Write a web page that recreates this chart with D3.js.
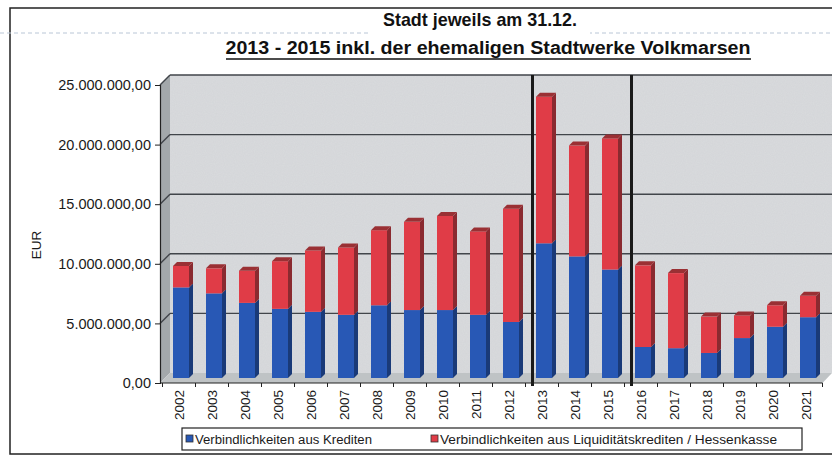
<!DOCTYPE html>
<html>
<head>
<meta charset="utf-8">
<script src="https://cdn.jsdelivr.net/npm/d3@7"></script>
<style>
  body { margin: 0; background: #fff; }
  text { font-family: "Liberation Sans", Arial, sans-serif; }
</style>
</head>
<body>
<div id="chart"></div>
<script>
// data (EUR)
var years = ["2002","2003","2004","2005","2006","2007","2008","2009","2010","2011",
             "2012","2013","2014","2015","2016","2017","2018","2019","2020","2021"];
var kredite = [7600000,7100000,6300000,5800000,5550000,5300000,6100000,5700000,5700000,5300000,
               4700000,11300000,10200000,9100000,2600000,2500000,2100000,3350000,4300000,5100000];
var liquiditaet = [1800000,2100000,2700000,4000000,5150000,5650000,6300000,7400000,7900000,7000000,
                   9500000,12300000,9300000,11000000,6850000,6300000,3050000,1900000,1800000,1800000];
var yTicks = [0,5000000,10000000,15000000,20000000,25000000];
var seriesNames = ["Verbindlichkeiten aus Krediten",
                   "Verbindlichkeiten aus Liquiditätskrediten / Hessenkasse"];
var separators = ["2013","2016"];

var W = 832, H = 456;
var depth = 10;          // 3d depth of the walls
var barW = 16, barD = 4; // bar front width and bar side depth

var colors = {
    front: ["#2858b5", "#e03c47"],
    side:  ["#1a3a78", "#8a2a30"],
    top:   "#9a3034"
};

var svg = d3.select("#chart").append("svg")
    .attr("width", W)
    .attr("height", H);

// noise for the scanned look of the wall
var defs = svg.append("defs");
var flt = defs.append("filter").attr("id", "grain").attr("x", 0).attr("y", 0).attr("width", 1).attr("height", 1);
flt.append("feTurbulence").attr("type", "fractalNoise").attr("baseFrequency", 0.9).attr("numOctaves", 1).attr("result", "n");
flt.append("feColorMatrix").attr("in", "n").attr("type", "matrix")
    .attr("values", "0 0 0 0 0.55  0 0 0 0 0.57  0 0 0 0 0.6  0 0 0 0.35 0").attr("result", "g");
flt.append("feComposite").attr("in", "g").attr("in2", "SourceGraphic").attr("operator", "in").attr("result", "gi");
flt.append("feMerge").selectAll("feMergeNode").data(["SourceGraphic", "gi"]).enter()
    .append("feMergeNode").attr("in", function(d){ return d; });

var x = d3.scaleBand()
    .domain(years)
    .range([162.5, 822.5]);

var y = d3.scaleLinear()
    .domain([0, 25000000])
    .range([383, 85]);

var fmt = function(v){
    var s = d3.format(",.2f")(v);
    return s.replace(/,/g, "#").replace(".", ",").replace(/#/g, ".");
};

// outer frame
svg.append("rect")
    .attr("x", 10).attr("y", 8)
    .attr("width", 830).attr("height", 446)
    .attr("fill", "none")
    .attr("stroke", "#222")
    .attr("stroke-width", 1.5);

// faint scan line
svg.append("line")
    .attr("x1", 0).attr("x2", W)
    .attr("y1", 33).attr("y2", 33)
    .attr("stroke", "#b9c6d6")
    .attr("stroke-width", 1)
    .attr("stroke-dasharray", "4,3");

// title
svg.append("rect")
    .attr("x", 370).attr("y", 10).attr("width", 220).attr("height", 24)
    .attr("fill", "#fff");
svg.append("text")
    .attr("x", 480).attr("y", 26)
    .attr("text-anchor", "middle")
    .attr("font-size", 19).attr("font-weight", "bold")
    .attr("textLength", 194).attr("lengthAdjust", "spacingAndGlyphs")
    .attr("fill", "#111")
    .text("Stadt jeweils am 31.12.");
svg.append("text")
    .attr("x", 488).attr("y", 54)
    .attr("text-anchor", "middle")
    .attr("font-size", 18).attr("font-weight", "bold")
    .attr("textLength", 525).attr("lengthAdjust", "spacingAndGlyphs")
    .attr("fill", "#111")
    .text("2013 - 2015 inkl. der ehemaligen Stadtwerke Volkmarsen");
svg.append("line")
    .attr("x1", 226).attr("x2", 751)
    .attr("y1", 59).attr("y2", 59)
    .attr("stroke", "#111").attr("stroke-width", 1.5);

// 3d walls
var x0 = x.range()[0] - 2.5, x1 = x.range()[1];
var yTop = y(25000000), yBase = y(0);

svg.append("polygon") // back wall
    .attr("points", [[x0+depth, yTop-depth],[W, yTop-depth],[W, yBase-depth],[x0+depth, yBase-depth]].join(" "))
    .attr("fill", "#dadcde")
    .attr("filter", "url(#grain)");
svg.append("polygon") // left wall
    .attr("points", [[x0, yTop],[x0+depth, yTop-depth],[x0+depth, yBase-depth],[x0, yBase]].join(" "))
    .attr("fill", "#a3a8ab");
svg.append("polygon") // floor
    .attr("points", [[x0, yBase],[x0+depth, yBase-depth],[W, yBase-depth],[x1, yBase]].join(" "))
    .attr("fill", "#bfc3c5");

// gridlines
var grid = svg.append("g").attr("class", "grid");
grid.selectAll("line.back")
    .data(yTicks.slice(1))
    .enter().append("line")
    .attr("class", "back")
    .attr("x1", x0+depth).attr("x2", W)
    .attr("y1", function(d){ return y(d)-depth; })
    .attr("y2", function(d){ return y(d)-depth; })
    .attr("stroke", "#41454a").attr("stroke-width", 1.4);
grid.selectAll("line.side")
    .data(yTicks.slice(1))
    .enter().append("line")
    .attr("class", "side")
    .attr("x1", x0).attr("x2", x0+depth)
    .attr("y1", function(d){ return y(d); })
    .attr("y2", function(d){ return y(d)-depth; })
    .attr("stroke", "#41454a").attr("stroke-width", 1.4);

// bars
var table = years.map(function(yr, i){
    return { year: yr, k: kredite[i], l: liquiditaet[i] };
});
var stack = d3.stack().keys(["k", "l"])(table);

var barX = function(d){ return x(d.data.year) + (x.bandwidth() - barW)/2 + 2; };
var off = 5;

var layers = svg.selectAll("g.layer")
    .data(stack)
    .enter().append("g")
    .attr("class", "layer");

layers.each(function(s, si){
    var g = d3.select(this);
    g.selectAll("rect")
        .data(s)
        .enter().append("rect")
        .attr("x", barX)
        .attr("y", function(d){ return y(d[1]) - off; })
        .attr("width", barW)
        .attr("height", function(d){ return y(d[0]) - y(d[1]); })
        .attr("fill", colors.front[si]);
    g.selectAll("polygon.side")
        .data(s)
        .enter().append("polygon")
        .attr("class", "side")
        .attr("points", function(d){
            var bx = barX(d) + barW, t = y(d[1]) - off, b = y(d[0]) - off;
            return [[bx, t],[bx+barD, t-barD],[bx+barD, b-barD],[bx, b]].join(" ");
        })
        .attr("fill", colors.side[si]);
    if (si === stack.length - 1) {
        g.selectAll("polygon.top")
            .data(s)
            .enter().append("polygon")
            .attr("class", "top")
            .attr("points", function(d){
                var bx = barX(d), t = y(d[1]) - off;
                return [[bx, t],[bx+barD, t-barD],[bx+barW+barD, t-barD],[bx+barW, t]].join(" ");
            })
            .attr("fill", colors.top);
    }
});

// separator lines
svg.selectAll("line.sep")
    .data(separators)
    .enter().append("line")
    .attr("class", "sep")
    .attr("x1", function(d){ return x(d) + 7; })
    .attr("x2", function(d){ return x(d) + 7; })
    .attr("y1", yTop - depth).attr("y2", yBase + 3)
    .attr("stroke", "#1a1a1a").attr("stroke-width", 3);

// axes
var yAxis = d3.axisLeft(y)
    .tickValues(yTicks)
    .tickFormat(fmt)
    .tickSize(5)
    .tickPadding(4);
var gy = svg.append("g")
    .attr("class", "y-axis axis")
    .attr("transform", "translate(" + x0 + ",0)")
    .call(yAxis);
gy.select(".domain").attr("stroke", "#222").attr("stroke-width", 1.2);
gy.selectAll("line").attr("stroke", "#222");
gy.selectAll("text")
    .attr("font-size", 14.5)
    .attr("fill", "#1a1a1a")
    .attr("font-family", "'Liberation Sans', Arial, sans-serif");

var xAxis = d3.axisBottom(x).tickSize(0).tickPadding(0);
var gx = svg.append("g")
    .attr("class", "x-axis axis")
    .attr("transform", "translate(0," + yBase + ")")
    .call(xAxis);
gx.select(".domain").attr("d", "M" + x0 + ",0H" + x1).attr("stroke", "#222").attr("stroke-width", 1.2);
gx.selectAll("text")
    .attr("font-size", 13.5)
    .attr("fill", "#1a1a1a")
    .attr("font-family", "'Liberation Sans', Arial, sans-serif")
    .attr("transform", "translate(5,7) rotate(-90)")
    .attr("text-anchor", "end")
    .attr("dy", 0)
    .attr("y", 0);
gx.selectAll("line.tk")
    .data(years.concat(["end"]))
    .enter().append("line")
    .attr("class", "tk")
    .attr("x1", function(d, i){ return x.range()[0] + i * x.step(); })
    .attr("x2", function(d, i){ return x.range()[0] + i * x.step(); })
    .attr("y1", 0).attr("y2", 4)
    .attr("stroke", "#222");

// axis title
svg.append("text")
    .attr("transform", "translate(41,245) rotate(-90)")
    .attr("text-anchor", "middle")
    .attr("font-size", 13.5)
    .attr("fill", "#1a1a1a")
    .text("EUR");

// legend
var legend = svg.append("g").attr("class", "legend");
legend.append("rect")
    .attr("x", 182).attr("y", 428)
    .attr("width", 620).attr("height", 22)
    .attr("fill", "#fff")
    .attr("stroke", "#222").attr("stroke-width", 1.2);
var legX = [186, 431];
var legLen = [177, 337];
seriesNames.forEach(function(name, i){
    legend.append("rect")
        .attr("x", legX[i]).attr("y", 435)
        .attr("width", 7).attr("height", 7)
        .attr("fill", colors.front[i])
        .attr("stroke", "#333").attr("stroke-width", 0.8);
    legend.append("text")
        .attr("x", legX[i] + 9).attr("y", 443.5)
        .attr("font-size", 12.5)
        .attr("textLength", legLen[i]).attr("lengthAdjust", "spacingAndGlyphs")
        .attr("fill", "#1a1a1a")
        .text(name);
});
</script>
</body>
</html>
